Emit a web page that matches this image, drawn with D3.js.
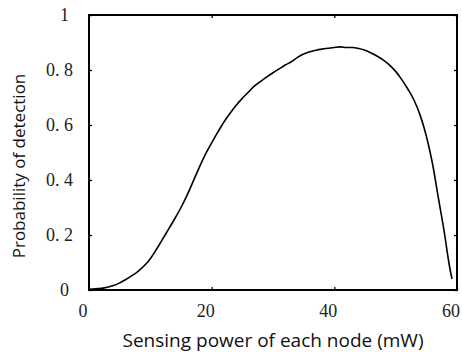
<!DOCTYPE html>
<html>
<head>
<meta charset="utf-8">
<script src="https://cdn.jsdelivr.net/npm/d3@7/dist/d3.min.js"></script>
<style>
  body { margin: 0; background: #fff; }
  .tick-label { font-family: "Liberation Serif", "DejaVu Serif", serif; font-size: 18px; fill: #222; }
  .axis-title { font-family: "Open Sans", "Noto Sans", sans-serif; fill: #111; }
</style>
</head>
<body>
<svg id="chart" width="462" height="352"></svg>
<script>
// sensing power (mW) and detection probability
var power = [0, 1, 2, 3, 4, 5, 6, 7, 8, 9, 10, 11, 12, 13, 14, 15, 16, 17, 18, 19,
  20, 21, 22, 23, 24, 25, 26, 27, 28, 29, 30, 31, 32, 33, 34, 35, 36, 37, 38, 39,
  40, 41, 42, 43, 44, 45, 46, 47, 48, 49, 50, 51, 52, 53, 54, 55, 56, 57, 58, 58.6, 59, 59.2];
var probability = [0.003, 0.004, 0.006, 0.01, 0.016, 0.026, 0.038, 0.052, 0.068, 0.088,
  0.114, 0.148, 0.185, 0.222, 0.26, 0.3, 0.345, 0.396, 0.447, 0.494,
  0.535, 0.574, 0.611, 0.643, 0.672, 0.697, 0.72, 0.742, 0.759, 0.775,
  0.79, 0.804, 0.818, 0.83, 0.846, 0.858, 0.866, 0.872, 0.876, 0.879,
  0.882, 0.884, 0.882, 0.882, 0.878, 0.872, 0.862, 0.85, 0.836, 0.818,
  0.795, 0.765, 0.73, 0.69, 0.635, 0.56, 0.46, 0.33, 0.2, 0.11, 0.06, 0.04];

var xTicks = [0, 20, 40, 60];
var xTickLabels = ['0', '20', '40', '60'];
var yTicks = [0, 0.2, 0.4, 0.6, 0.8, 1];
var yTickLabels = ['0', '0. 2', '0. 4', '0. 6', '0. 8', '1'];

var margin = {left: 89, top: 15, right: 5, bottom: 62};
var width = 462, height = 352;
var svg = d3.select('#chart');

var x = d3.scaleLinear().domain([0, 60]).range([margin.left, width - margin.right]);
var y = d3.scaleLinear().domain([0, 1]).range([height - margin.bottom, margin.top]);

var points = power.map(function(p, i) { return [p, probability[i]]; });

// curve
svg.append('path')
    .datum(points)
    .attr('fill', 'none')
    .attr('stroke', '#000')
    .attr('stroke-width', 1.6)
    .attr('d', d3.line()
        .x(function(d) { return x(d[0]); })
        .y(function(d) { return y(d[1]); })
        .curve(d3.curveMonotoneX));

// inward ticks on all four sides
var tickLen = 3;
function ticks(g, scale, orient) {
    var ax;
    if (orient === 'bottom') ax = d3.axisTop(scale);
    else if (orient === 'top') ax = d3.axisBottom(scale);
    else if (orient === 'left') ax = d3.axisRight(scale);
    else ax = d3.axisLeft(scale);
    ax.tickValues(orient === 'bottom' || orient === 'top' ? xTicks : yTicks)
      .tickSize(tickLen).tickFormat('');
    g.call(ax);
    g.select('.domain').remove();
    g.selectAll('line').attr('stroke', '#000').attr('stroke-width', 1.3);
}
svg.append('g').attr('transform', 'translate(0,' + y(0) + ')').call(ticks, x, 'bottom');
svg.append('g').attr('transform', 'translate(0,' + y(1) + ')').call(ticks, x, 'top');
svg.append('g').attr('transform', 'translate(' + x(0) + ',0)').call(ticks, y, 'left');
svg.append('g').attr('transform', 'translate(' + x(60) + ',0)').call(ticks, y, 'right');

// frame
svg.append('rect')
    .attr('x', x(0)).attr('y', y(1))
    .attr('width', x(60) - x(0)).attr('height', y(0) - y(1))
    .attr('fill', 'none').attr('stroke', '#000').attr('stroke-width', 2);

// tick labels
svg.selectAll('.xl').data(xTicks).enter().append('text')
    .attr('class', 'tick-label')
    .attr('x', function(d) { return x(d) - 6; })
    .attr('y', 317)
    .attr('text-anchor', 'middle')
    .text(function(d, i) { return xTickLabels[i]; });

svg.selectAll('.yl').data(yTicks).enter().append('text')
    .attr('class', 'tick-label')
    .attr('x', function(d) { return (d === 0 || d === 1) ? 69 : 73; })
    .attr('y', function(d) { return y(d) + 6; })
    .attr('text-anchor', 'end')
    .text(function(d, i) { return yTickLabels[i]; });

// axis titles
svg.append('text')
    .attr('class', 'axis-title')
    .attr('font-size', 19)
    .attr('x', 273).attr('y', 347)
    .attr('text-anchor', 'middle')
    .text('Sensing power of each node (mW)');

svg.append('text')
    .attr('class', 'axis-title')
    .attr('font-size', 17)
    .attr('transform', 'translate(25,166) rotate(-90)')
    .attr('text-anchor', 'middle')
    .text('Probability of detection');
</script>
</body>
</html>
